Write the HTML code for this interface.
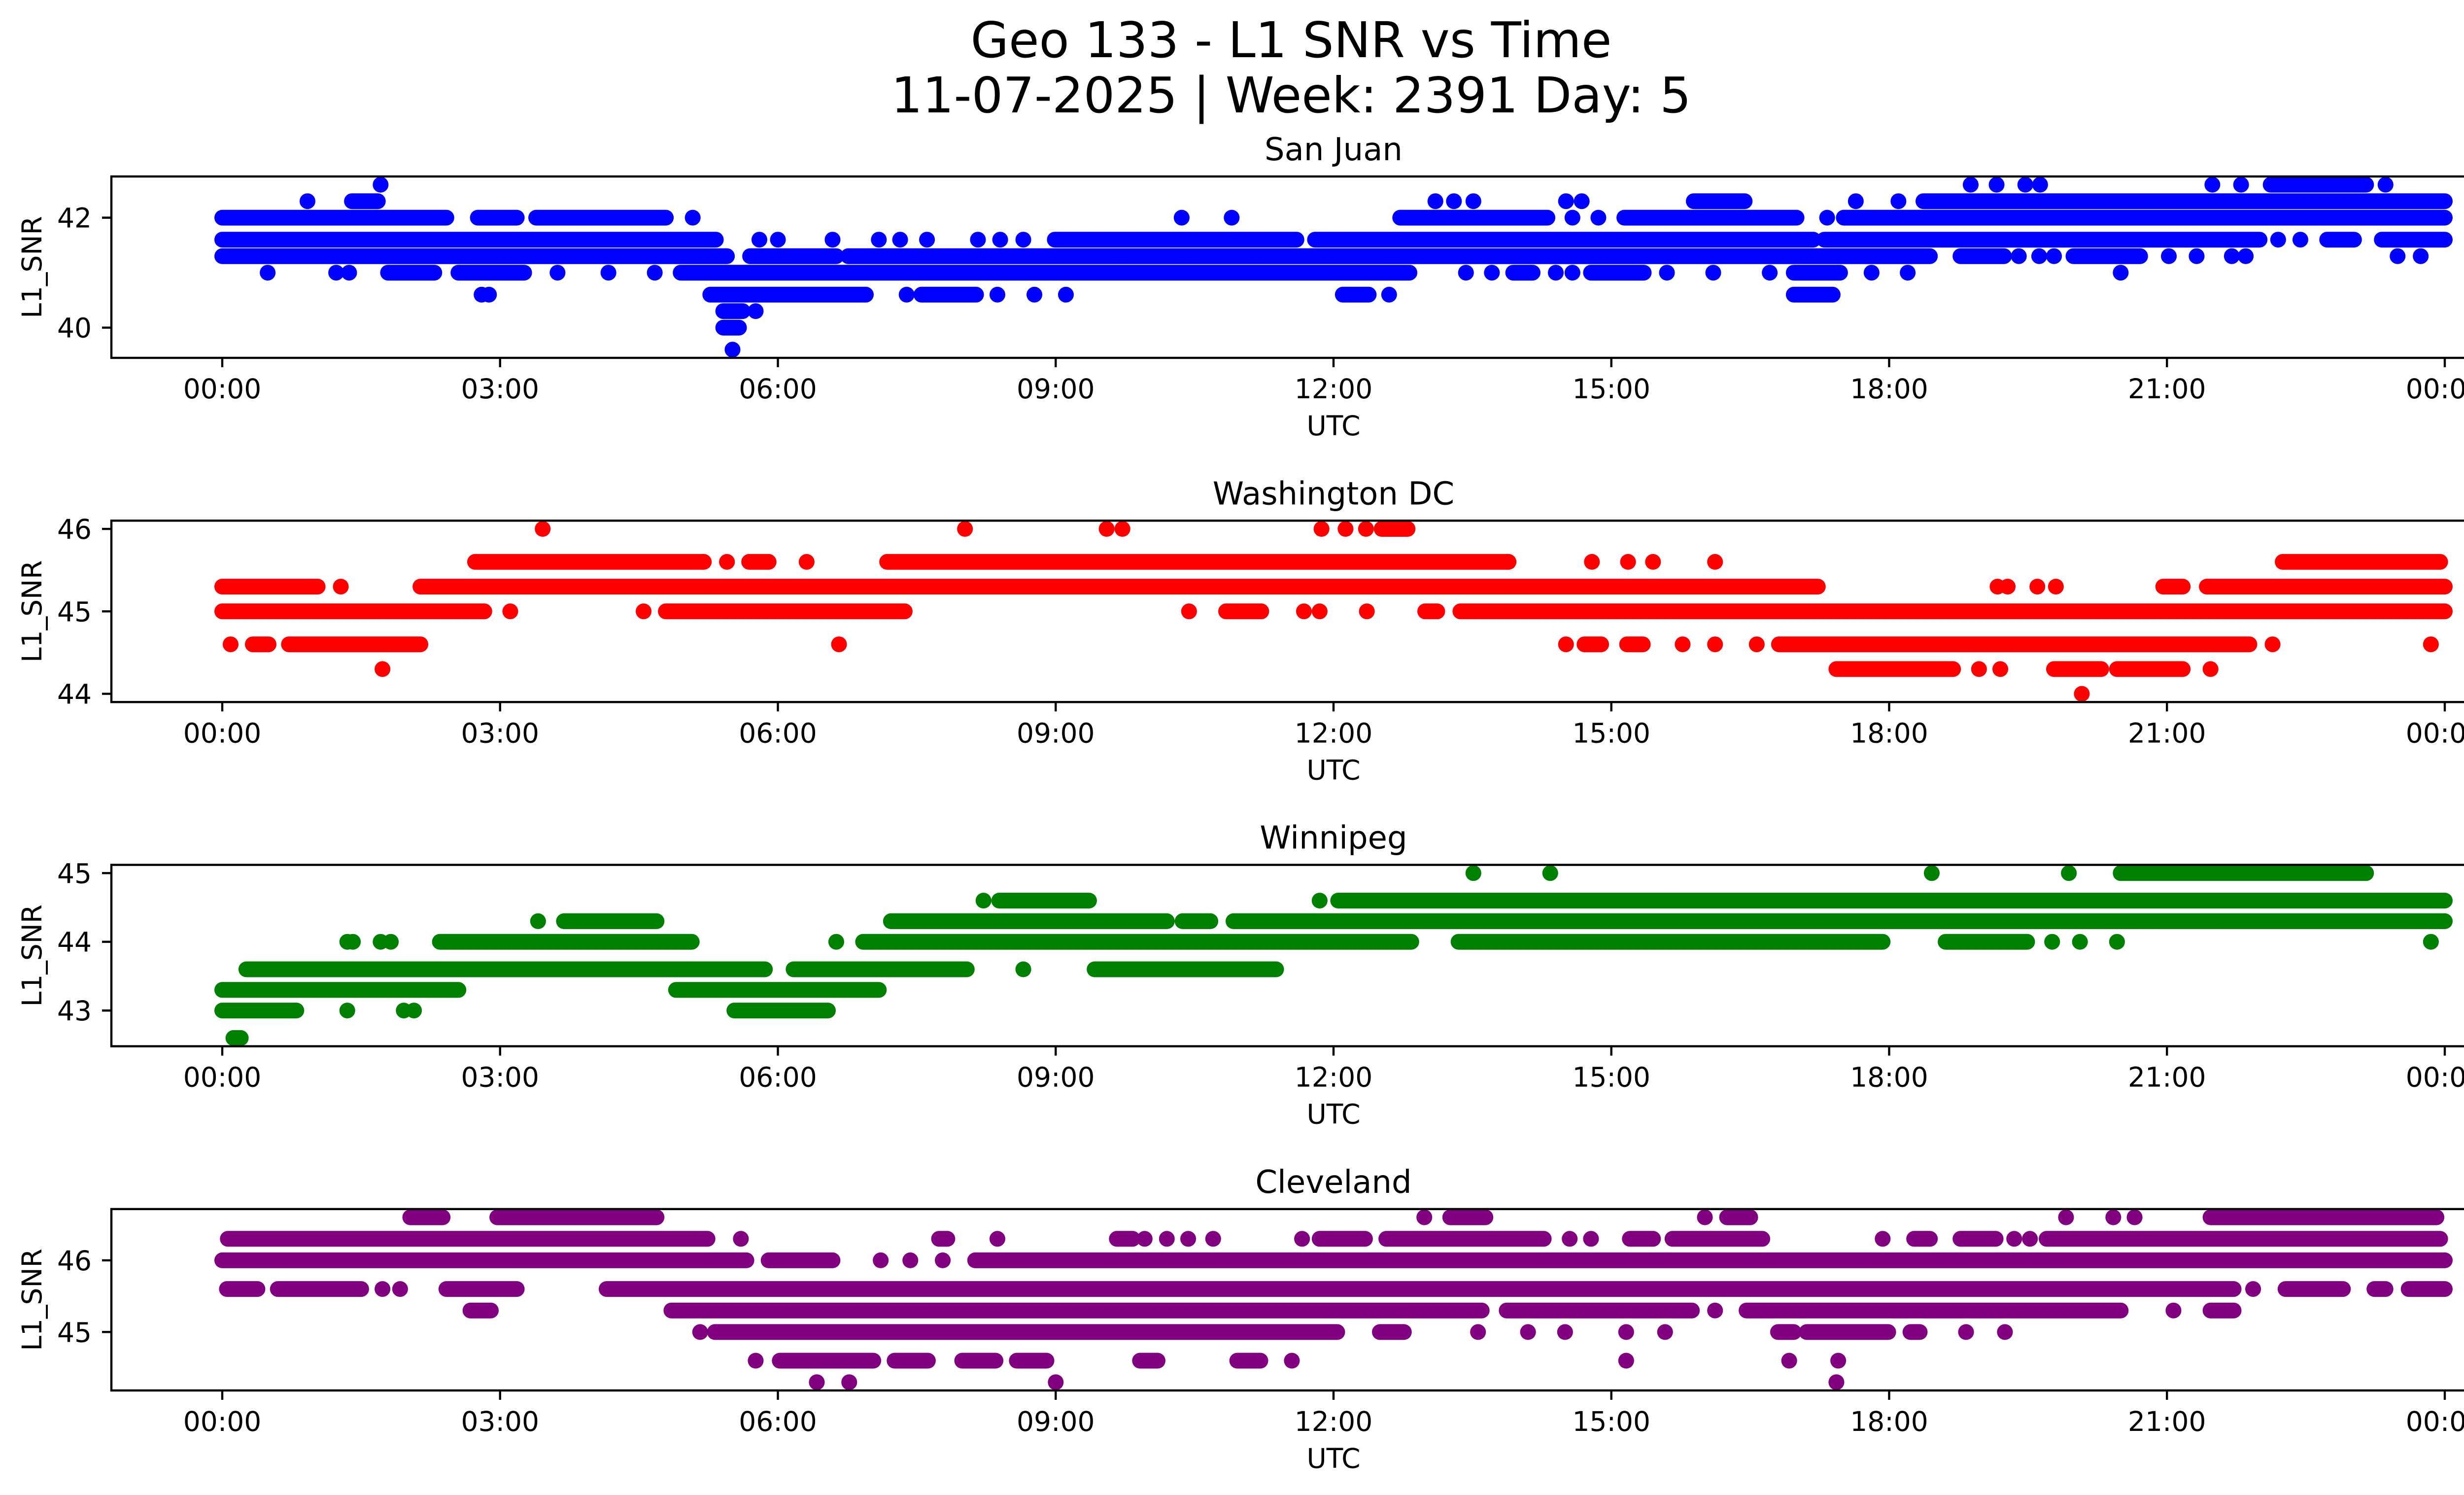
<!DOCTYPE html>
<html><head><meta charset="utf-8"><title>Geo 133 - L1 SNR vs Time</title>
<style>html,body{margin:0;padding:0;background:#fff}svg{display:block}text{font-family:"DejaVu Sans","Liberation Sans",sans-serif}</style>
</head><body>
<svg id="fig" width="5225" height="3033" viewBox="0 0 5225 3033" xmlns="http://www.w3.org/2000/svg">
<rect width="5225" height="3033" fill="#fff"/>
<text x="2620" y="116" font-size="100" text-anchor="middle">Geo 133 - L1 SNR vs Time</text>
<text x="2620" y="228" font-size="100" text-anchor="middle">11-07-2025 | Week: 2391 Day: 5</text>
</svg>
<script>
const xTickHours = [0,3,6,9,12,15,18,21,24];
const xTickLabels = ["00:00","03:00","06:00","09:00","12:00","15:00","18:00","21:00","00:00"];
const panelTitles = ["San Juan","Washington DC","Winnipeg","Cleveland"];
const panelColors = ["#0000ff","#ff0000","#008000","#800080"];
const sanJuanTicks = [40,42];
const washingtonTicks = [44,45,46];
const winnipegTicks = [43,44,45];
const clevelandTicks = [45,46];
// runs: [snr, startHour, endHour]  (single points omit endHour)
const sanJuanRuns = [
[42.6,1.71],[42.6,18.88],[42.6,19.16],[42.6,19.47],[42.6,19.63],[42.6,21.49],[42.6,21.80],[42.6,22.12,23.15],[42.6,23.36],
[42.3,0.92],[42.3,1.40,1.68],[42.3,13.10],[42.3,13.30],[42.3,13.51],[42.3,14.51],[42.3,14.68],[42.3,15.89,16.44],[42.3,17.64],[42.3,18.10],[42.3,18.37,24],
[42.0,0,2.42],[42.0,2.76,3.18],[42.0,3.39,4.79],[42.0,5.08],[42.0,10.36],[42.0,10.90],[42.0,12.72,14.31],[42.0,14.58],[42.0,14.86],[42.0,15.14,17.0],[42.0,17.33],[42.0,17.51,24],
[41.6,0,5.33],[41.6,5.80],[41.6,6.0],[41.6,6.59],[41.6,7.09],[41.6,7.32],[41.6,7.61],[41.6,8.16],[41.6,8.40],[41.6,8.65],[41.6,8.99,11.6],[41.6,11.8,17.18],[41.6,17.3,22.0],[41.6,22.2],[41.6,22.44],[41.6,22.73,23.02],[41.6,23.32,24],
[41.3,0,5.45],[41.3,5.70,6.63],[41.3,6.76,18.44],[41.3,18.77,19.24],[41.3,19.4],[41.3,19.62],[41.3,19.78],[41.3,19.99,20.71],[41.3,21.02],[41.3,21.32],[41.3,21.7],[41.3,21.85],[41.3,23.49],[41.3,23.74],
[41.0,0.49],[41.0,1.23],[41.0,1.37],[41.0,1.79,2.29],[41.0,2.55,3.26],[41.0,3.62],[41.0,4.17],[41.0,4.67],[41.0,4.95,12.82],[41.0,13.43],[41.0,13.71],[41.0,13.94,14.15],[41.0,14.40],[41.0,14.58],[41.0,14.78,15.35],[41.0,15.60],[41.0,16.1],[41.0,16.71],[41.0,16.97,17.47],[41.0,17.81],[41.0,18.2],[41.0,20.5],
[40.6,2.80],[40.6,2.88],[40.6,5.27,6.95],[40.6,7.39],[40.6,7.55,8.14],[40.6,8.37],[40.6,8.77],[40.6,9.11],[40.6,12.1,12.38],[40.6,12.6],[40.6,16.97,17.39],
[40.3,5.41,5.62],[40.3,5.76],[40.0,5.41,5.58],[39.6,5.51]
];
const washingtonRuns = [
[46.0,3.46],[46.0,8.02],[46.0,9.55],[46.0,9.72],[46.0,11.87],[46.0,12.13],[46.0,12.35],[46.0,12.52,12.80],
[45.6,2.73,5.2],[45.6,5.45],[45.6,5.69,5.90],[45.6,6.31],[45.6,7.18,13.89],[45.6,14.79],[45.6,15.18],[45.6,15.45],[45.6,16.12],[45.6,22.25,23.95],
[45.3,0,1.03],[45.3,1.28],[45.3,2.14,17.23],[45.3,19.17],[45.3,19.28],[45.3,19.6],[45.3,19.8],[45.3,20.96,21.17],[45.3,21.43,24],
[45.0,0,2.83],[45.0,3.11],[45.0,4.55],[45.0,4.79,7.37],[45.0,10.44],[45.0,10.84,11.22],[45.0,11.68],[45.0,11.85],[45.0,12.36],[45.0,12.99,13.12],[45.0,13.37,24],
[44.6,0.09],[44.6,0.33,0.50],[44.6,0.72,2.14],[44.6,6.66],[44.6,14.51],[44.6,14.71,14.89],[44.6,15.17,15.34],[44.6,15.77],[44.6,16.12],[44.6,16.57],[44.6,16.81,21.89],[44.6,22.14],[44.6,23.85],
[44.3,1.73],[44.3,17.43,18.69],[44.3,18.97],[44.3,19.2],[44.3,19.78,20.29],[44.3,20.46,21.17],[44.3,21.47],
[44.0,20.08]
];
const winnipegRuns = [
[45.0,13.51],[45.0,14.34],[45.0,18.46],[45.0,19.94],[45.0,20.5,23.15],
[44.6,8.22],[44.6,8.39,9.36],[44.6,11.85],[44.6,12.05,24],
[44.3,3.41],[44.3,3.69,4.69],[44.3,7.22,10.20],[44.3,10.37,10.67],[44.3,10.92,24],
[44.0,1.35],[44.0,1.41],[44.0,1.71],[44.0,1.82],[44.0,2.35,5.07],[44.0,6.63],[44.0,6.92,12.84],[44.0,13.35,17.93],[44.0,18.61,19.49],[44.0,19.76],[44.0,20.06],[44.0,20.46],[44.0,23.85],
[43.6,0.26,5.86],[43.6,6.17,8.04],[43.6,8.65],[43.6,9.42,11.38],
[43.3,0,2.55],[43.3,4.9,7.09],
[43.0,0,0.80],[43.0,1.35],[43.0,1.96],[43.0,2.07],[43.0,5.53,6.54],
[42.6,0.12,0.2]
];
const clevelandRuns = [
[46.6,2.03,2.38],[46.6,2.97,4.69],[46.6,12.98],[46.6,13.26,13.64],[46.6,16.01],[46.6,16.25,16.5],[46.6,19.91],[46.6,20.42],[46.6,20.65],[46.6,21.47,23.91],
[46.3,0.06,5.24],[46.3,5.60],[46.3,7.74,7.83],[46.3,8.37],[46.3,9.66,9.83],[46.3,9.96],[46.3,10.2],[46.3,10.43],[46.3,10.7],[46.3,11.66],[46.3,11.85,12.34],[46.3,12.57,14.27],[46.3,14.55],[46.3,14.78],[46.3,15.2,15.45],[46.3,15.66,16.63],[46.3,17.93],[46.3,18.27,18.44],[46.3,18.77,19.15],[46.3,19.35],[46.3,19.52],[46.3,19.7,23.95],
[46.0,0,5.66],[46.0,5.9,6.59],[46.0,7.11],[46.0,7.43],[46.0,7.78],[46.0,8.13,24],
[45.6,0.05,0.38],[45.6,0.6,1.5],[45.6,1.73],[45.6,1.92],[45.6,2.42,3.18],[45.6,4.15,21.72],[45.6,21.93],[45.6,22.28,22.9],[45.6,23.24,23.36],[45.6,23.61,24],
[45.3,2.68,2.90],[45.3,4.85,13.6],[45.3,13.87,15.87],[45.3,16.12],[45.3,16.46,20.5],[45.3,21.07],[45.3,21.47,21.72],
[45.0,5.16],[45.0,5.32,12.04],[45.0,12.5,12.76],[45.0,13.56],[45.0,14.1],[45.0,14.5],[45.0,15.16],[45.0,15.58],[45.0,16.8,16.97],[45.0,17.11,17.99],[45.0,18.23,18.33],[45.0,18.83],[45.0,19.25],
[44.6,5.76],[44.6,6.02,7.03],[44.6,7.26,7.62],[44.6,7.99,8.35],[44.6,8.58,8.9],[44.6,9.91,10.1],[44.6,10.96,11.21],[44.6,11.55],[44.6,15.16],[44.6,16.92],[44.6,17.45],
[44.3,6.42],[44.3,6.77],[44.3,9.0],[44.3,17.43]
];
const panelRuns = [sanJuanRuns, washingtonRuns, winnipegRuns, clevelandRuns];
const panelTicks = [sanJuanTicks, washingtonTicks, winnipegTicks, clevelandTicks];
const panelKeys = ["san-juan","washington-dc","winnipeg","cleveland"];

const NS = "http://www.w3.org/2000/svg";
const svg = document.getElementById("fig");
const AX_L = 226, AX_R = 5186, AX_H = 368, PANEL_STEP = 698.3, TOP0 = 358;
const X0 = 451, PX_PER_H = (4961 - 451) / 24;
function xScale(h){ return X0 + h * PX_PER_H; }
function mk(tag, attrs, parent){ const e = document.createElementNS(NS, tag); for (const k in attrs) e.setAttribute(k, attrs[k]); (parent||svg).appendChild(e); return e; }

panelRuns.forEach((runs, i) => {
  const top = TOP0 + i * PANEL_STEP, bot = top + AX_H;
  const vals = runs.map(r => r[0]);
  const vmin = Math.min(...vals), vmax = Math.max(...vals);
  const m = (vmax - vmin) * 0.05;
  const lo = vmin - m, hi = vmax + m;
  const yScale = v => bot - (v - lo) / (hi - lo) * AX_H;
  const g = mk("g", {});
  
  
  const clipId = "clip" + i;
  const cp = mk("clipPath", {id: clipId}, g);
  mk("rect", {x: AX_L, y: top, width: AX_R - AX_L, height: AX_H}, cp);
  const marks = mk("g", {"clip-path": "url(#" + clipId + ")"}, g);
  
  
  runs.forEach(r => {
    const v = r[0], s = r[1], e = (r.length > 2 ? r[2] : r[1]);
    const x1 = xScale(s), x2 = xScale(e), y = yScale(v);
    const p = mk("path", {d: "M" + x1.toFixed(1) + " " + y.toFixed(1) + " L" + Math.max(x2, x1 + 0.1).toFixed(1) + " " + y.toFixed(1), stroke: panelColors[i], "stroke-width": 32, "stroke-linecap": "round", fill: "none"}, marks);
    
    
  });
  const frame = mk("rect", {x: AX_L, y: top, width: AX_R - AX_L, height: AX_H, fill: "none", stroke: "#000", "stroke-width": 4.4}, g);
  
  
  xTickHours.forEach((h, k) => {
    const x = xScale(h);
    const t = mk("line", {x1: x, x2: x, y1: bot, y2: bot + 19, stroke: "#000", "stroke-width": 4.4}, g);
    
    
    const lb = mk("text", {x: x, y: bot + 82, "font-size": 55, "text-anchor": "middle"}, g);
    lb.textContent = xTickLabels[k];
    
    
  });
  panelTicks[i].forEach(v => {
    const y = yScale(v);
    const t = mk("line", {x1: AX_L - 19, x2: AX_L, y1: y, y2: y, stroke: "#000", "stroke-width": 4.4}, g);
    
    
    const lb = mk("text", {x: AX_L - 40, y: y + 20, "font-size": 55, "text-anchor": "end"}, g);
    lb.textContent = String(v);
    
    
  });
  const tt = mk("text", {x: (AX_L + AX_R) / 2, y: top - 33, "font-size": 64, "text-anchor": "middle"}, g);
  tt.textContent = panelTitles[i];
  
  
  const xl = mk("text", {x: (AX_L + AX_R) / 2, y: bot + 157, "font-size": 55, "text-anchor": "middle"}, g);
  xl.textContent = "UTC";
  
  
  const yc = (top + bot) / 2;
  const yl = mk("text", {x: 84, y: yc, "font-size": 55, "text-anchor": "middle", transform: "rotate(-90 84 " + yc + ")"}, g);
  yl.textContent = "L1_SNR";
  
  
});
</script>
</body></html>
